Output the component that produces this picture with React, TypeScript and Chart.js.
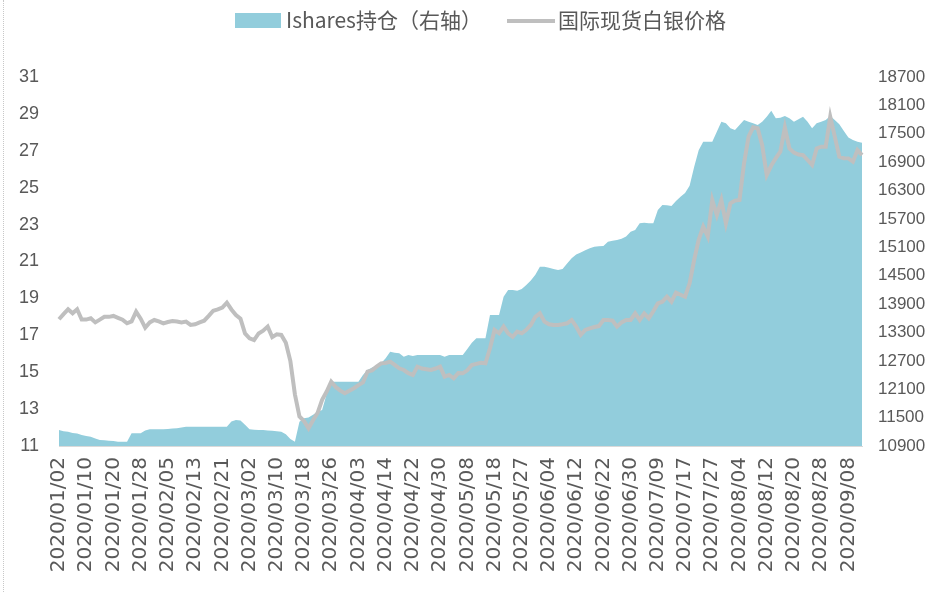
import React, { useEffect, useRef } from "react";
import { Chart, registerables } from "chart.js";

Chart.register(...registerables);

// trading days per month (2020)
const MONTH_DAYS: [string, number[]][] = [
  ["01", [2, 3, 6, 7, 8, 9, 10, 13, 14, 15, 16, 17, 20, 21, 22, 23, 24, 27, 28, 29, 30, 31]],
  ["02", [3, 4, 5, 6, 7, 10, 11, 12, 13, 14, 17, 18, 19, 20, 21, 24, 25, 26, 27, 28]],
  ["03", [2, 3, 4, 5, 6, 9, 10, 11, 12, 13, 16, 17, 18, 19, 20, 23, 24, 25, 26, 27, 30, 31]],
  ["04", [1, 2, 3, 6, 7, 8, 9, 13, 14, 15, 16, 17, 20, 21, 22, 23, 24, 27, 28, 29, 30]],
  ["05", [1, 4, 5, 6, 7, 8, 11, 12, 13, 14, 15, 18, 19, 20, 21, 22, 26, 27, 28, 29]],
  ["06", [1, 2, 3, 4, 5, 8, 9, 10, 11, 12, 15, 16, 17, 18, 19, 22, 23, 24, 25, 26, 29, 30]],
  ["07", [1, 2, 6, 7, 8, 9, 10, 13, 14, 15, 16, 17, 20, 21, 22, 23, 24, 27, 28, 29, 30, 31]],
  ["08", [3, 4, 5, 6, 7, 10, 11, 12, 13, 14, 17, 18, 19, 20, 21, 24, 25, 26, 27, 28, 31]],
  ["09", [1, 2, 3, 4, 8, 9, 10, 11]],
];

const dates: string[] = [];
MONTH_DAYS.forEach(([m, days]) =>
  days.forEach((d) => dates.push(`2020/${m}/${String(d).padStart(2, "0")}`))
);

// 国际现货白银价格 (left axis)
const silver: number[] = [
  17.87, 18.15, 18.41, 18.19, 18.41, 17.85, 17.85, 17.92, 17.7, 17.85,
  18.0, 18.0, 18.05, 17.95, 17.85, 17.65, 17.75, 18.28, 17.9, 17.41,
  17.7, 17.83, 17.75, 17.65, 17.72, 17.77, 17.75, 17.7, 17.74, 17.56,
  17.6, 17.7, 17.79, 18.05, 18.33, 18.4, 18.5, 18.77, 18.4, 18.1,
  17.9, 17.1, 16.84, 16.74, 17.1, 17.25, 17.47, 16.9, 17.05, 17.02,
  16.6, 15.6, 13.8, 12.6, 12.35, 11.96, 12.4, 12.8, 13.5, 13.95,
  14.49, 14.2, 14.0, 13.86, 14.0, 14.13, 14.3, 14.45, 15.03, 15.1,
  15.3, 15.48, 15.5, 15.57, 15.4, 15.21, 15.12, 14.95, 14.85, 15.3,
  15.2, 15.16, 15.12, 15.2, 15.3, 14.76, 14.85, 14.67, 14.95, 14.94,
  15.1, 15.39, 15.45, 15.51, 15.48, 16.3, 17.29, 17.11, 17.47, 17.11,
  16.92, 17.2, 17.11, 17.3, 17.56, 18.0, 18.19, 17.74, 17.6, 17.56,
  17.56, 17.6, 17.65, 17.83, 17.47, 17.02, 17.29, 17.38, 17.45, 17.5,
  17.83, 17.83, 17.8, 17.47, 17.7, 17.83, 17.83, 18.19, 17.83, 18.19,
  17.92, 18.3, 18.73, 18.82, 19.09, 18.82, 19.31, 19.2, 19.09, 19.82,
  21.08, 22.17, 22.89, 22.35, 24.33, 23.52, 24.33, 23.07, 24.15, 24.3,
  24.33, 26.32, 27.77, 28.27, 28.22, 27.3, 25.69, 26.2, 26.6, 26.95,
  28.27, 27.13, 26.9, 26.8, 26.77, 26.5, 26.23, 27.13, 27.22, 27.22,
  28.85, 27.77, 26.68, 26.6, 26.59, 26.41, 27.04, 26.77,
];

// Ishares持仓 (right axis)
const holdings: number[] = [
  11238, 11210, 11200, 11175, 11165, 11133, 11110, 11095, 11060, 11027,
  11020, 11012, 11005, 10991, 10991, 10991, 11168, 11168, 11168, 11230,
  11253, 11253, 11253, 11253, 11260, 11270, 11274, 11290, 11308, 11308,
  11308, 11308, 11308, 11308, 11308, 11308, 11308, 11308, 11420, 11450,
  11440, 11350, 11253, 11245, 11238, 11238, 11230, 11220, 11210, 11202,
  11150, 11050, 10991, 11414, 11485, 11500, 11560, 11625, 11661, 12000,
  12259, 12259, 12259, 12259, 12259, 12259, 12259, 12400, 12507, 12560,
  12600, 12650, 12754, 12893, 12870, 12860, 12788, 12824, 12803, 12824,
  12824, 12824, 12824, 12824, 12824, 12788, 12824, 12824, 12824, 12824,
  12950, 13080, 13177, 13177, 13177, 13669, 13669, 13669, 14056, 14198,
  14198, 14183, 14220, 14303, 14400, 14520, 14690, 14690, 14670, 14640,
  14621, 14640, 14760, 14868, 14950, 14990, 15040, 15079, 15113, 15120,
  15128, 15219, 15240, 15255, 15280, 15330, 15430, 15466, 15608, 15621,
  15610, 15608, 15889, 15995, 15990, 15974, 16080, 16171, 16250, 16400,
  16800, 17150, 17333, 17333, 17333, 17544, 17756, 17720, 17616, 17580,
  17686, 17792, 17756, 17720, 17686, 17756, 17861, 17988, 17827, 17840,
  17876, 17827, 17756, 17806, 17861, 17756, 17616, 17720, 17756, 17792,
  17876, 17792, 17700, 17560, 17420, 17369, 17333, 17312,
];

const LABEL_EVERY = 6;
const SERIES_HOLD = "Ishares持仓（右轴）";
const SERIES_SILVER = "国际现货白银价格";

const TEXT = "#595959";
const AREA = "#92CDDC";
const LINE = "#BFBFBF";

export default function App() {
  const ref = useRef<HTMLCanvasElement | null>(null);

  useEffect(() => {
    if (!ref.current) return;
    const chart = new Chart(ref.current, {
      type: "line",
      data: {
        labels: dates,
        datasets: [
          {
            label: SERIES_SILVER,
            data: silver,
            borderColor: LINE,
            borderWidth: 4,
            pointRadius: 0,
            fill: false,
            yAxisID: "y",
            order: 0,
            tension: 0,
          },
          {
            label: SERIES_HOLD,
            data: holdings,
            borderWidth: 0,
            borderColor: AREA,
            backgroundColor: AREA,
            pointRadius: 0,
            fill: "start",
            yAxisID: "y1",
            order: 1,
            tension: 0,
          },
        ],
      },
      options: {
        responsive: false,
        animation: false,
        layout: { padding: { top: 77, left: 0, right: 0, bottom: 0 } },
        plugins: {
          legend: { display: false },
          tooltip: { enabled: false },
        },
        scales: {
          x: {
            type: "category",
            offset: false,
            grid: { display: false, drawTicks: false },
            border: { display: true, color: "#D9D9D9", width: 1 },
            ticks: {
              autoSkip: false,
              maxRotation: 90,
              minRotation: 90,
              padding: 11,
              color: TEXT,
              font: { family: "DejaVu Sans", size: 20 },
              callback: (_v: any, i: number) => (i % LABEL_EVERY === 0 ? dates[i] : ""),
            },
            afterFit: (s: any) => {
              s.height = 592 - 446;
            },
          },
          y: {
            position: "left",
            min: 11,
            max: 31,
            grid: { display: false, drawTicks: false },
            border: { display: false },
            ticks: {
              stepSize: 2,
              padding: 20,
              color: TEXT,
              font: { family: "Liberation Sans", size: 18 },
            },
            afterFit: (s: any) => {
              s.width = 59;
            },
          },
          y1: {
            position: "right",
            min: 10900,
            max: 18700,
            grid: { display: false, drawTicks: false },
            border: { display: false },
            ticks: {
              stepSize: 600,
              padding: 16,
              color: TEXT,
              font: { family: "Liberation Sans", size: 17 },
              callback: (v: any) => String(v),
            },
            afterFit: (s: any) => {
              s.width = 938 - 862;
            },
          },
        },
      },
    });
    return () => chart.destroy();
  }, []);

  const legendFont = '"Noto Sans CJK SC", "Noto Sans", sans-serif';

  return (
    <div
      style={{
        position: "fixed",
        left: 0,
        top: 0,
        width: 938,
        height: 592,
        background: "#fff",
        overflow: "hidden",
      }}
    >
      <canvas ref={ref} width={938} height={592} style={{ display: "block" }} />
      <div
        style={{
          position: "absolute",
          left: 3,
          top: 0,
          height: 592,
          borderLeft: "1px dotted #c8c8c8",
        }}
      />
      <div style={{ position: "absolute", left: 235, top: 13, width: 46, height: 15, background: AREA }} />
      <div
        style={{
          position: "absolute",
          left: 286,
          top: 4,
          fontFamily: legendFont,
          fontSize: 21,
          lineHeight: "30px",
          color: TEXT,
          whiteSpace: "nowrap",
        }}
      >
        {SERIES_HOLD}
      </div>
      <div style={{ position: "absolute", left: 507, top: 19, width: 48, height: 4, background: LINE }} />
      <div
        style={{
          position: "absolute",
          left: 558,
          top: 4,
          fontFamily: legendFont,
          fontSize: 21,
          lineHeight: "30px",
          color: TEXT,
          whiteSpace: "nowrap",
        }}
      >
        {SERIES_SILVER}
      </div>
    </div>
  );
}
